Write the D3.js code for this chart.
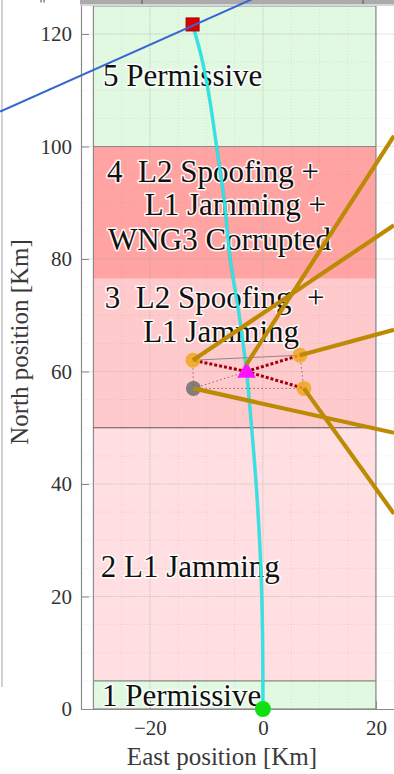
<!DOCTYPE html>
<html>
<head>
<meta charset="utf-8">
<script src="https://cdn.jsdelivr.net/npm/d3@7/dist/d3.min.js"></script>
<style>
  html, body { margin: 0; padding: 0; background: #fff; }
  svg { display: block; }
  .zone-label { white-space: pre; }
</style>
</head>
<body>
<svg id="chart" width="394" height="774"></svg>
<script>
// ---- data -------------------------------------------------------------
const xTicks = [-20, 0, 20];
const yTicks = [0, 20, 40, 60, 80, 100, 120];

// zone boundaries along North [km] and the East extent of the zones
const zoneBounds = [0, 5, 50, 76.5, 100, 125];
const zoneEast = [-30, 20];
const zoneNames = [
  ["1 Permissive"],
  ["2 L1 Jamming"],
  ["3  L2 Spoofing  +", "L1 Jamming"],
  ["4  L2 Spoofing +", "L1 Jamming +", "WNG3 Corrupted"],
  ["5 Permissive"]
];

// aircraft track [km]
const trackEast  = [0, 0, -0.2, -1.2, -2.0, -2.9, -4.2, -5.8, -6.8, -8.2, -9.7, -10.9, -12.45];
const trackNorth = [0, 5, 20, 40, 50, 60, 70, 80, 90, 100, 110, 116, 121.7];

// emitter / receiver positions [km]
const jammerPos = { east: -2.9, north: 60.0 };
const nodeEast  = [-12.4, 6.55, 7.25, -12.3];
const nodeNorth = [62.0, 62.9, 57.0, 57.0];
const nodeActive = [true, true, true, false];

// callout leaders [km]: start and far end (beyond the right edge)
const calloutFrom = [[-2.95, 61.2], [-12.4, 62.0], [6.55, 62.9], [-12.3, 57.0], [7.25, 57.0]];
const calloutTo   = [[23.2, 101.9], [23.2, 86.0], [23.2, 67.4], [23.2, 49.1], [23.2, 34.7]];

// slide pointer line [km]
const pointerLine = [[-46.5, 106.2], [-1.0, 126.6]];

// ---- layout -----------------------------------------------------------
const zoneFills = ["#e1f9e1", "#ffdfe2", "#ffcacc", "#ffa3a3", "#e1f9e1"];
// label anchors [km] (left edge of each line, baseline)
const labelAnchors = [
  [[-28.5, 0.5]],
  [[-28.7, 23.5]],
  [[-28.0, 71.3], [-21.2, 65.2]],
  [[-27.6, 93.7], [-20.9, 87.8], [-27.4, 81.6]],
  [[-28.3, 110.8]]
];

// pick the first installed serif face
function pickFont(cands) {
  const c = document.createElement("canvas").getContext("2d");
  const probe = "WNG3 Corrupted Permissive 0123";
  c.font = "40px monospace";
  const base = c.measureText(probe).width;
  for (const f of cands) {
    c.font = `40px "${f}", monospace`;
    if (Math.abs(c.measureText(probe).width - base) > 0.5) return `"${f}"`;
  }
  return "serif";
}
const serif = pickFont(["Liberation Serif", "Times New Roman", "Tinos", "DejaVu Serif", "Noto Serif", "FreeSerif"]);

const svg = d3.select("#chart").style("font-family", serif);
const x = d3.scaleLinear().domain([-32.2, 23.2]).range([81, 394]);
const y = d3.scaleLinear().domain([0, 126]).range([709, 0.25]);

// window frame remnants
svg.append("line").attr("x1", 2).attr("x2", 2).attr("y1", 0).attr("y2", 687)
  .attr("stroke", "#b5b5b5").attr("stroke-width", 1.2);

// zone fills
const zones = d3.range(zoneNames.length);
svg.append("g").selectAll("rect").data(zones).join("rect")
  .attr("x", x(zoneEast[0]))
  .attr("width", x(zoneEast[1]) - x(zoneEast[0]))
  .attr("y", i => y(zoneBounds[i + 1]))
  .attr("height", i => y(zoneBounds[i]) - y(zoneBounds[i + 1]))
  .attr("fill", i => zoneFills[i]);

// grid
const grid = svg.append("g");
const [gx0, gx1] = x.domain(), [gy0, gy1] = y.domain();
grid.selectAll(".gxm").data(d3.range(-30, 21, 5)).join("line")
  .attr("x1", d => x(d)).attr("x2", d => x(d)).attr("y1", y(gy0)).attr("y2", y(gy1))
  .attr("stroke", "#9a9a9a").attr("stroke-opacity", 0.22).attr("stroke-dasharray", "1,2");
grid.selectAll(".gym").data(d3.range(5, 126, 5)).join("line")
  .attr("x1", x(gx0)).attr("x2", x(gx1)).attr("y1", d => y(d)).attr("y2", d => y(d))
  .attr("stroke", "#9a9a9a").attr("stroke-opacity", 0.22).attr("stroke-dasharray", "1,2");
grid.selectAll(".gx").data(xTicks).join("line")
  .attr("x1", d => x(d)).attr("x2", d => x(d)).attr("y1", y(gy0)).attr("y2", y(gy1))
  .attr("stroke", "#b0b0b0").attr("stroke-opacity", 0.25);
grid.selectAll(".gy").data(yTicks.slice(1)).join("line")
  .attr("x1", x(gx0)).attr("x2", x(gx1)).attr("y1", d => y(d)).attr("y2", d => y(d))
  .attr("stroke", "#b0b0b0").attr("stroke-opacity", 0.25);

// zone borders
const borders = svg.append("g").attr("fill", "none");
borders.append("rect")
  .attr("x", x(zoneEast[0])).attr("y", y(zoneBounds[5]))
  .attr("width", x(zoneEast[1]) - x(zoneEast[0]))
  .attr("height", y(zoneBounds[0]) - y(zoneBounds[5]))
  .attr("stroke", "#8a8a8a").attr("stroke-width", 1.2);
borders.selectAll("line").data([zoneBounds[1], zoneBounds[2], zoneBounds[4]]).join("line")
  .attr("x1", x(zoneEast[0])).attr("x2", x(zoneEast[1]))
  .attr("y1", d => y(d)).attr("y2", d => y(d))
  .attr("stroke", (d, i) => i === 1 ? "#5a5a5a" : "#8a8a8a").attr("stroke-width", 1.2);

// axes
const yAxis = svg.append("g").attr("transform", `translate(${x(gx0)},0)`)
  .call(d3.axisLeft(y).tickValues(yTicks).tickSizeInner(-8).tickSizeOuter(0).tickPadding(9));
const xAxis = svg.append("g").attr("transform", `translate(0,${y(0)})`)
  .call(d3.axisBottom(x).tickValues(xTicks).tickSizeInner(-8).tickSizeOuter(0).tickPadding(11));
[yAxis, xAxis].forEach(g => {
  g.attr("font-family", null).attr("font-size", null);
  g.select(".domain").attr("stroke", "#8a8a8a").attr("stroke-width", 1.2);
  g.selectAll(".tick line").attr("stroke", "#8a8a8a");
  g.selectAll(".tick text").attr("font-size", 21).attr("fill", "#333");
});

// axis titles
svg.append("text").attr("x", 222).attr("y", 765).attr("text-anchor", "middle")
  .attr("font-size", 25).attr("fill", "#3a3a3a").text("East position [Km]");
svg.append("text").attr("transform", "translate(28,342) rotate(-90)").attr("text-anchor", "middle")
  .attr("font-size", 25).attr("fill", "#3a3a3a").text("North position [Km]");

// zone labels with white halo
const labels = svg.append("g");
zoneNames.forEach((lines, zi) => {
  lines.forEach((t, li) => {
    const [e, n] = labelAnchors[zi][li];
    labels.append("text").attr("class", "zone-label")
      .attr("x", x(e)).attr("y", y(n))
      .attr("font-size", 31).attr("fill", "#111")
      .attr("stroke", "#fff").attr("stroke-width", 3.2).attr("stroke-opacity", 0.9)
      .attr("stroke-linejoin", "round").attr("paint-order", "stroke")
      .text(t);
  });
});

// track
const track = trackEast.map((e, i) => [e, trackNorth[i]]);
const line = d3.line().x(d => x(d[0])).y(d => y(d[1])).curve(d3.curveMonotoneY);
svg.append("path").datum(track).attr("d", line)
  .attr("fill", "none").attr("stroke", "#16b8b8").attr("stroke-width", 3.6).attr("stroke-opacity", 0.5);
svg.append("path").datum(track).attr("d", line)
  .attr("fill", "none").attr("stroke", "#2be6e6").attr("stroke-width", 2.6);

// geometry between emitters
const nodes = nodeEast.map((e, i) => ({ east: e, north: nodeNorth[i], active: nodeActive[i] }));
const geo = svg.append("g");
const seg = (a, b) => geo.append("line")
  .attr("x1", x(a.east)).attr("y1", y(a.north)).attr("x2", x(b.east)).attr("y2", y(b.north));
seg(nodes[0], nodes[1]).attr("stroke", "#888").attr("stroke-width", 1);
[[nodes[0], nodes[3]], [nodes[3], nodes[2]], [nodes[1], nodes[2]], [nodes[3], jammerPos]].forEach(([a, b]) =>
  seg(a, b).attr("stroke", "#8a6a6a").attr("stroke-width", 1).attr("stroke-dasharray", "1.5,2.5"));
[0, 1, 2].forEach(i =>
  seg(jammerPos, nodes[i]).attr("stroke", "#a00010").attr("stroke-width", 3).attr("stroke-dasharray", "3,2"));

// nodes
svg.append("g").selectAll("circle").data(nodes).join("circle")
  .attr("cx", d => x(d.east)).attr("cy", d => y(d.north)).attr("r", 7.5)
  .attr("fill", d => d.active ? "#f0a81e" : "#6e6e6e").attr("fill-opacity", 0.85);

// jammer
svg.append("path")
  .attr("d", d3.symbol(d3.symbolTriangle, 150)())
  .attr("transform", `translate(${x(jammerPos.east)},${y(jammerPos.north) + 1})`)
  .attr("fill", "#ff10ff");

// start and end of track
svg.append("circle").attr("cx", x(trackEast[0])).attr("cy", y(trackNorth[0])).attr("r", 8)
  .attr("fill", "#10e010");
const last = track[track.length - 1];
svg.append("rect").attr("x", x(last[0]) - 6.5).attr("y", y(last[1]) - 6.5)
  .attr("width", 13).attr("height", 13).attr("fill", "#e00000").attr("stroke", "#a00000");

// callout leaders
svg.append("g").selectAll("line").data(calloutFrom).join("line")
  .attr("x1", d => x(d[0])).attr("y1", d => y(d[1]))
  .attr("x2", (d, i) => x(calloutTo[i][0])).attr("y2", (d, i) => y(calloutTo[i][1]))
  .attr("stroke", "#bd8a05").attr("stroke-width", 4.2);

// top window bar
svg.append("rect").attr("x", 80).attr("y", 0).attr("width", 314).attr("height", 4.5).attr("fill", "#ababab");
svg.append("rect").attr("x", 80).attr("y", 4.5).attr("width", 314).attr("height", 1.5).attr("fill", "#d8d8d8");
[142, 363].forEach(px => svg.append("line").attr("x1", px).attr("x2", px).attr("y1", 0).attr("y2", 4)
  .attr("stroke", "#555").attr("stroke-width", 1));
[41, 44].forEach(px => svg.append("line").attr("x1", px).attr("x2", px).attr("y1", 0).attr("y2", 2.5)
  .attr("stroke", "#444").attr("stroke-width", 1));

// pointer line
svg.append("line")
  .attr("x1", x(pointerLine[0][0])).attr("y1", y(pointerLine[0][1]))
  .attr("x2", x(pointerLine[1][0])).attr("y2", y(pointerLine[1][1]))
  .attr("stroke", "#3567cf").attr("stroke-width", 2);
</script>
</body>
</html>
